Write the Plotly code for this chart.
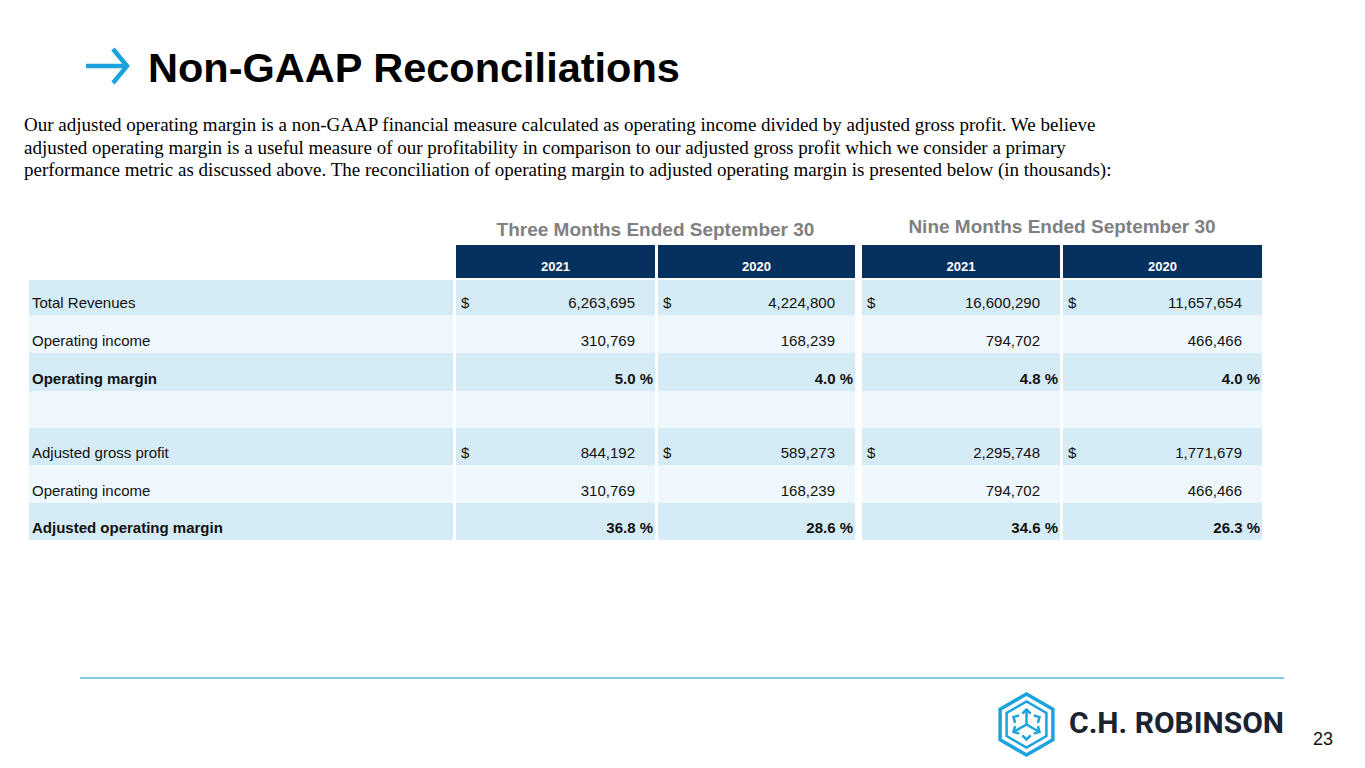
import math
import plotly.graph_objects as go

# ---- data (in thousands) ----
periods = ["Three Months Ended September 30", "Nine Months Ended September 30"]
years = ["2021", "2020", "2021", "2020"]
row_labels = ["Total Revenues", "Operating income", "Operating margin", "",
              "Adjusted gross profit", "Operating income", "Adjusted operating margin"]
total_revenues = [6263695, 4224800, 16600290, 11657654]
operating_income = [310769, 168239, 794702, 466466]
operating_margin = [5.0, 4.0, 4.8, 4.0]
adjusted_gross_profit = [844192, 589273, 2295748, 1771679]
adjusted_operating_margin = [36.8, 28.6, 34.6, 26.3]

paragraph = [
    "Our adjusted operating margin is a non-GAAP financial measure calculated as operating income divided by adjusted gross profit. We believe",
    "adjusted operating margin is a useful measure of our profitability in comparison to our adjusted gross profit which we consider a primary",
    "performance metric as discussed above. The reconciliation of operating margin to adjusted operating margin is presented below (in thousands):",
]

W, H = 1365, 768
PAD = 8  # page body margin of the browser
NAVY = "#06315f"
LIGHT = "#d5ecf7"
PALE = "#eef8fc"
BLUE = "#1ca3de"
FONT = "Liberation Sans"

# table geometry (pixels on the page)
label_x0, label_x1 = 29, 453
col_x0 = [456, 658, 862, 1063]
col_x1 = [655, 855, 1060, 1262]
head_y0, head_y1 = 245, 278
row_edges = [280, 315, 353, 391, 428, 465, 503, 540]

rows = [
    (total_revenues, "money"),
    (operating_income, "num"),
    (operating_margin, "pct"),
    (None, "blank"),
    (adjusted_gross_profit, "money"),
    (operating_income, "num"),
    (adjusted_operating_margin, "pct"),
]

shapes = []
for j in range(4):
    shapes.append(dict(type="rect", xref="x", yref="y", x0=col_x0[j], x1=col_x1[j],
                       y0=head_y0, y1=head_y1, fillcolor=NAVY, line_width=0, layer="below"))
for i in range(len(rows)):
    y0, y1 = row_edges[i], row_edges[i + 1]
    fill = LIGHT if i % 2 == 0 else PALE
    shapes.append(dict(type="rect", xref="x", yref="y", x0=label_x0, x1=label_x1,
                       y0=y0, y1=y1, fillcolor=fill, line_width=0, layer="below"))
    for j in range(4):
        shapes.append(dict(type="rect", xref="x", yref="y", x0=col_x0[j], x1=col_x1[j],
                           y0=y0, y1=y1, fillcolor=fill, line_width=0, layer="below"))

# bottom rule
shapes.append(dict(type="line", xref="x", yref="y", x0=80, x1=1284, y0=678, y1=678,
                   line=dict(color="#5ab9e6", width=1.5)))

# title arrow
shapes.append(dict(type="path", xref="x", yref="y",
                   path="M 86 66 L 126 66 M 113 49 L 127 66 L 113 83",
                   line=dict(color=BLUE, width=4.5)))

# logo hexagon icon
cx, cy = 1026.5, 724.5


def hex_path(r):
    pts = [(cx + r * math.cos(math.radians(90 + 60 * k)),
            cy - r * math.sin(math.radians(90 + 60 * k))) for k in range(6)]
    return "M " + " L ".join(f"{x:.1f} {y:.1f}" for x, y in pts) + " Z"


shapes.append(dict(type="path", xref="x", yref="y", path=hex_path(30.5),
                   line=dict(color=BLUE, width=3.5)))
shapes.append(dict(type="path", xref="x", yref="y", path=hex_path(23),
                   line=dict(color=BLUE, width=2.5)))
for k in range(6):
    a = math.radians(90 + 60 * k)
    dx, dy = math.cos(a), -math.sin(a)
    tx, ty = cx + 15 * dx, cy + 15 * dy
    if k % 2 == 0:
        shapes.append(dict(type="line", xref="x", yref="y", x0=cx, y0=cy, x1=tx, y1=ty,
                           line=dict(color=BLUE, width=2.5)))
    wings = []
    for s in (1, -1):
        b = a + math.pi + s * math.radians(45)
        wings.append((tx + 6 * math.cos(b), ty - 6 * math.sin(b)))
    shapes.append(dict(type="path", xref="x", yref="y",
                       path=f"M {wings[0][0]:.1f} {wings[0][1]:.1f} L {tx:.1f} {ty:.1f} L {wings[1][0]:.1f} {wings[1][1]:.1f}",
                       line=dict(color=BLUE, width=2.5)))

fig = go.Figure()

# header years
fig.add_trace(go.Scatter(
    x=[(a + b) / 2 for a, b in zip(col_x0, col_x1)],
    y=[head_y1 - 10] * 4,
    text=[f"<b>{y}</b>" for y in years], mode="text",
    textfont=dict(family=FONT, size=13, color="white"), hoverinfo="skip"))

# period headers
fig.add_trace(go.Scatter(
    x=[(col_x0[0] + col_x1[1]) / 2, (col_x0[2] + col_x1[3]) / 2],
    y=[231, 228], text=[f"<b>{p}</b>" for p in periods], mode="text",
    textfont=dict(family=FONT, size=19, color="#808080"), hoverinfo="skip"))

# row labels
bold_rows = {2, 6}
lab_y = [row_edges[i + 1] - 11 for i in range(len(rows))]
fig.add_trace(go.Scatter(
    x=[label_x0 + 3] * len(rows), y=lab_y,
    text=[f"<b>{t}</b>" if i in bold_rows else t for i, t in enumerate(row_labels)],
    mode="text", textposition="middle right",
    textfont=dict(family=FONT, size=15, color="#111111"), hoverinfo="skip"))

# values
vx, vy, vt, dx_, dy_ = [], [], [], [], []
for i, (vals, kind) in enumerate(rows):
    if vals is None:
        continue
    for j in range(4):
        v = vals[j]
        if kind == "pct":
            vt.append(f"<b>{v:.1f} %</b>")
            vx.append(col_x1[j] - 2)
        else:
            vt.append(f"{v:,}")
            vx.append(col_x1[j] - 20)
        vy.append(lab_y[i])
        if kind == "money":
            dx_.append(col_x0[j] + 5)
            dy_.append(lab_y[i])
fig.add_trace(go.Scatter(
    x=vx, y=vy, text=vt, mode="text", textposition="middle left",
    textfont=dict(family=FONT, size=15, color="#111111"), hoverinfo="skip"))
fig.add_trace(go.Scatter(
    x=dx_, y=dy_, text=["$"] * len(dx_), mode="text", textposition="middle right",
    textfont=dict(family=FONT, size=15, color="#111111"), hoverinfo="skip"))

annotations = [
    dict(text="<b>Non-GAAP Reconciliations</b>", x=146, y=67, xref="x", yref="y",
         xanchor="left", yanchor="middle", showarrow=False,
         font=dict(family=FONT, size=41.5, color="#000000")),
    dict(text="<b>C.H. ROBINSON</b>", x=1067, y=722, xref="x", yref="y",
         xanchor="left", yanchor="middle", showarrow=False,
         font=dict(family="Roboto", size=30, color="#1b2230")),
    dict(text="23", x=1323, y=739, xref="x", yref="y", xanchor="center", yanchor="middle",
         showarrow=False, font=dict(family=FONT, size=18, color="#111111")),
]
for k, line in enumerate(paragraph):
    annotations.append(dict(text=line, x=22, y=124 + 23 * k, xref="x", yref="y",
                            xanchor="left", yanchor="middle", showarrow=False,
                            font=dict(family="Liberation Serif", size=19, color="#000000")))

fig.update_layout(
    width=W - 2 * PAD, height=H - 2 * PAD, margin=dict(l=0, r=0, t=0, b=0),
    paper_bgcolor="white", plot_bgcolor="white", showlegend=False,
    xaxis=dict(range=[PAD, W - PAD], visible=False, fixedrange=True),
    yaxis=dict(range=[H - PAD, PAD], visible=False, fixedrange=True),
    shapes=shapes, annotations=annotations,
)

fig.write_html("out.html")
